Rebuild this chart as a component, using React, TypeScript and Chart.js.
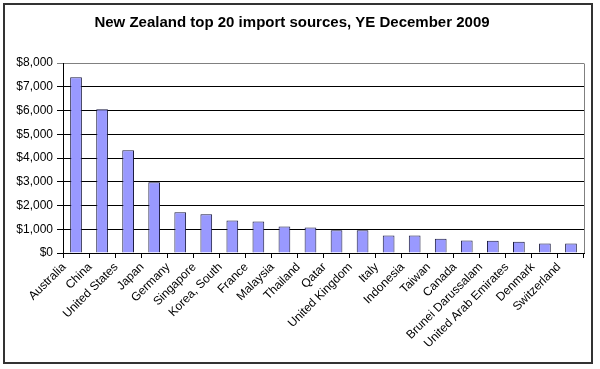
import React, { useEffect, useRef } from "react";
import { Chart, registerables } from "chart.js";

Chart.register(...registerables);

const categories = [
  "Australia", "China", "United States", "Japan", "Germany", "Singapore",
  "Korea, South", "France", "Malaysia", "Thailand", "Qatar", "United Kingdom",
  "Italy", "Indonesia", "Taiwan", "Canada", "Brunei Darussalam",
  "United Arab Emirates", "Denmark", "Switzerland",
];
const importValues = [
  7400, 6050, 4330, 2980, 1720, 1630, 1370, 1330, 1120, 1070,
  960, 960, 740, 740, 600, 530, 520, 470, 400, 400,
];
const yTickMin = 0;
const yTickMax = 8000;
const yTickStep = 1000;
const titleText = "New Zealand top 20 import sources, YE December 2009";

const FONT = "'Liberation Sans', Arial, sans-serif";

const framePlugin = {
  id: "frame",
  beforeDraw(chart: any) {
    const ctx = chart.ctx;
    ctx.save();
    ctx.fillStyle = "#ffffff";
    ctx.fillRect(0, 0, chart.width, chart.height);
    ctx.restore();
  },
  afterDraw(chart: any) {
    const ctx = chart.ctx;
    const a = chart.chartArea;
    ctx.save();
    ctx.strokeStyle = "#808080";
    ctx.lineWidth = 1;
    ctx.beginPath();
    ctx.moveTo(Math.round(a.right) + 0.5, Math.round(a.top) + 0.5);
    ctx.lineTo(Math.round(a.right) + 0.5, Math.round(a.bottom));
    ctx.stroke();
    ctx.strokeStyle = "#333333";
    ctx.lineWidth = 2;
    ctx.strokeRect(4, 4, 588, 359);
    ctx.restore();
  },
};

export default function App() {
  const ref = useRef<HTMLCanvasElement | null>(null);
  useEffect(() => {
    if (!ref.current) return;
    const chart = new Chart(ref.current, {
      type: "bar",
      data: {
        labels: categories,
        datasets: [
          {
            data: importValues,
            backgroundColor: "#9999FF",
            borderColor: "#1a1a40",
            borderWidth: 1,
            categoryPercentage: 1,
            barPercentage: 0.45,
          },
        ],
      },
      options: {
        responsive: false,
        animation: false,
        layout: { padding: { left: 0, right: 16, top: 0, bottom: 0 } },
        plugins: {
          legend: { display: false },
          tooltip: { enabled: false },
          title: {
            display: true,
            text: titleText,
            color: "#000",
            font: { family: FONT, size: 15, weight: "bold" },
            padding: { top: 14, bottom: 31 },
          },
        },
        scales: {
          x: {
            grid: {
              display: true,
              drawOnChartArea: false,
              drawTicks: true,
              tickLength: 5,
              color: "#000",
              offset: true,
            },
            border: { display: true, color: "#000", width: 1 },
            ticks: {
              autoSkip: false,
              maxRotation: 45,
              minRotation: 45,
              color: "#000",
              padding: 2,
              labelOffset: -12,
              font: { family: FONT, size: 12 },
            },
            afterFit(scale: any) {
              scale.height = 116;
            },
          },
          y: {
            min: yTickMin,
            max: yTickMax,
            grid: {
              drawTicks: true,
              tickLength: 6,
              color: (c: any) => (c.tick && c.tick.value === yTickMax ? "#808080" : "#000"),
            },
            border: { display: true, color: "#000", width: 1 },
            ticks: {
              stepSize: yTickStep,
              padding: 4,
              color: "#000",
              font: { family: FONT, size: 12 },
              callback: (v: any) => "$" + Number(v).toLocaleString("en-US"),
            },
            afterFit(scale: any) {
              scale.width = 63;
            },
          },
        },
      },
      plugins: [framePlugin],
    });
    return () => chart.destroy();
  }, []);
  return (
    <div style={{ position: "absolute", left: 0, top: 0, width: 600, height: 369 }}>
      <canvas ref={ref} width={600} height={369} />
    </div>
  );
}
